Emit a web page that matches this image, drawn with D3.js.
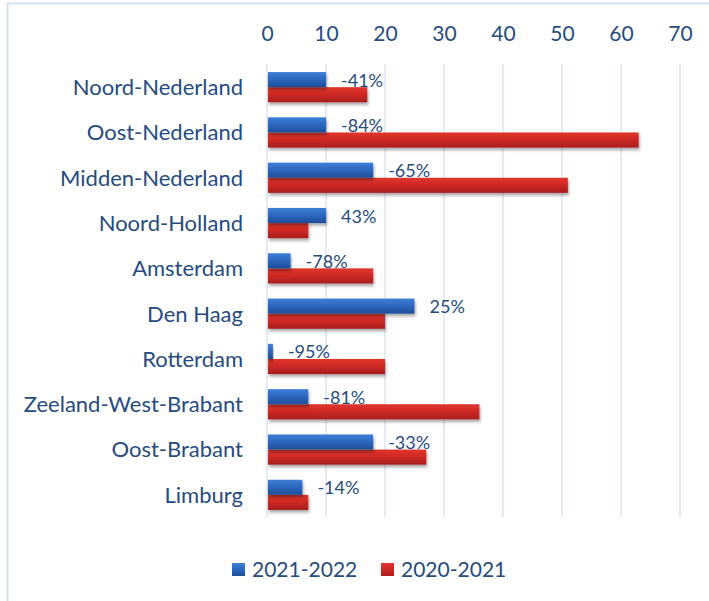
<!DOCTYPE html>
<html lang="nl">
<head>
  <meta charset="UTF-8" />
  <title>Regio's 2020-2021 vs 2021-2022</title>
  <script src="https://cdn.jsdelivr.net/npm/d3@7/dist/d3.min.js"></script>
  <style>
    html, body { margin: 0; padding: 0; background: #fff; }
    svg { display: block; font-family: Lato, "Open Sans", sans-serif; }
  </style>
</head>
<body>
  <div id="chart"></div>
  <script>
    // data
    const regions = ["Noord-Nederland", "Oost-Nederland", "Midden-Nederland", "Noord-Holland",
      "Amsterdam", "Den Haag", "Rotterdam", "Zeeland-West-Brabant", "Oost-Brabant", "Limburg"];
    const values2122 = [10, 10, 18, 10, 4, 25, 1, 7, 18, 6];
    const values2021 = [17, 63, 51, 7, 18, 20, 20, 36, 27, 7];
    const changeLabels = ["-41%", "-84%", "-65%", "43%", "-78%", "25%", "-95%", "-81%", "-33%", "-14%"];
    const seriesNames = ["2021-2022", "2020-2021"];
    const xTicks = [0, 10, 20, 30, 40, 50, 60, 70];

    const width = 709, height = 601;
    const textColor = "#264b7e";
    const gridColor = "#d7e0ee";

    const svg = d3.select("#chart").append("svg")
      .attr("width", width)
      .attr("height", height);

    // gradients + shadow
    const defs = svg.append("defs");
    function grad(id, c1, c2, c3) {
      const g = defs.append("linearGradient").attr("id", id)
        .attr("x1", 0).attr("y1", 0).attr("x2", 0).attr("y2", 1);
      g.append("stop").attr("offset", "0%").attr("stop-color", c1);
      g.append("stop").attr("offset", "45%").attr("stop-color", c2);
      g.append("stop").attr("offset", "100%").attr("stop-color", c3);
    }
    grad("gBlue", "#3f7fd6", "#2d6ac2", "#1e4d96");
    grad("gRed", "#e0352d", "#cf2a25", "#a81d1c");
    defs.append("filter").attr("id", "shadow")
      .attr("x", "-5%").attr("y", "-20%").attr("width", "115%").attr("height", "170%")
      .append("feDropShadow")
      .attr("dx", 1).attr("dy", 2.5).attr("stdDeviation", 1.6)
      .attr("flood-color", "#000").attr("flood-opacity", 0.35);

    // outer frame (runs off right and bottom edge)
    svg.append("rect")
      .attr("x", 7.5).attr("y", 3.5)
      .attr("width", 740).attr("height", 640)
      .attr("fill", "none")
      .attr("stroke", "#d5e1f0")
      .attr("stroke-width", 2);

    const x = d3.scaleLinear().domain([0, 70]).range([267, 680]);
    const y = d3.scaleBand().domain(regions).range([64.5, 517.5]).paddingInner(0.333).paddingOuter(0.1665);
    const barH = y.bandwidth() / 2;

    // gridlines
    svg.append("g").selectAll("line")
      .data(xTicks)
      .join("line")
      .attr("x1", d => x(d)).attr("x2", d => x(d))
      .attr("y1", 64).attr("y2", 517)
      .attr("stroke", gridColor)
      .attr("stroke-width", 1.3);

    // top axis
    const axis = svg.append("g")
      .attr("transform", "translate(0,41)")
      .call(d3.axisTop(x).tickValues(xTicks).tickSize(0).tickPadding(0));
    axis.select(".domain").remove();
    axis.selectAll("text")
      .attr("fill", textColor)
      .attr("font-size", 21)
      .attr("font-family", "Lato, sans-serif");

    // category labels
    svg.append("g").selectAll("text")
      .data(regions)
      .join("text")
      .attr("x", 243)
      .attr("y", d => y(d) + y.bandwidth() / 2)
      .attr("dy", "0.36em")
      .attr("text-anchor", "end")
      .attr("fill", textColor)
      .attr("font-size", 22)
      .text(d => d);

    // bars
    const bars = svg.append("g");
    bars.selectAll("rect.b2021")
      .data(regions)
      .join("rect")
      .attr("class", "b2021")
      .attr("x", x(0) + 1)
      .attr("y", d => y(d) + barH)
      .attr("width", (d, i) => x(values2021[i]) - x(0) - 1)
      .attr("height", barH)
      .attr("fill", "url(#gRed)")
      .attr("filter", "url(#shadow)");
    bars.selectAll("rect.b2122")
      .data(regions)
      .join("rect")
      .attr("class", "b2122")
      .attr("x", x(0) + 1)
      .attr("y", d => y(d))
      .attr("width", (d, i) => x(values2122[i]) - x(0) - 1)
      .attr("height", barH)
      .attr("fill", "url(#gBlue)")
      .attr("filter", "url(#shadow)");

    // change labels
    svg.append("g").selectAll("text")
      .data(regions)
      .join("text")
      .attr("x", (d, i) => x(values2122[i]) + 15)
      .attr("y", d => y(d) + barH - 0.5)
      .attr("fill", textColor)
      .attr("font-size", 18)
      .text((d, i) => changeLabels[i]);

    // legend
    const legend = svg.append("g").attr("transform", "translate(232,563)");
    const legendX = [0, 149];
    const legendFill = ["url(#gBlue)", "url(#gRed)"];
    seriesNames.forEach((name, i) => {
      legend.append("rect")
        .attr("x", legendX[i]).attr("y", 0)
        .attr("width", 13).attr("height", 13)
        .attr("fill", legendFill[i]);
      legend.append("text")
        .attr("x", legendX[i] + 20)
        .attr("y", 13.5)
        .attr("fill", textColor)
        .attr("font-size", 21)
        .text(name);
    });
  </script>
</body>
</html>
